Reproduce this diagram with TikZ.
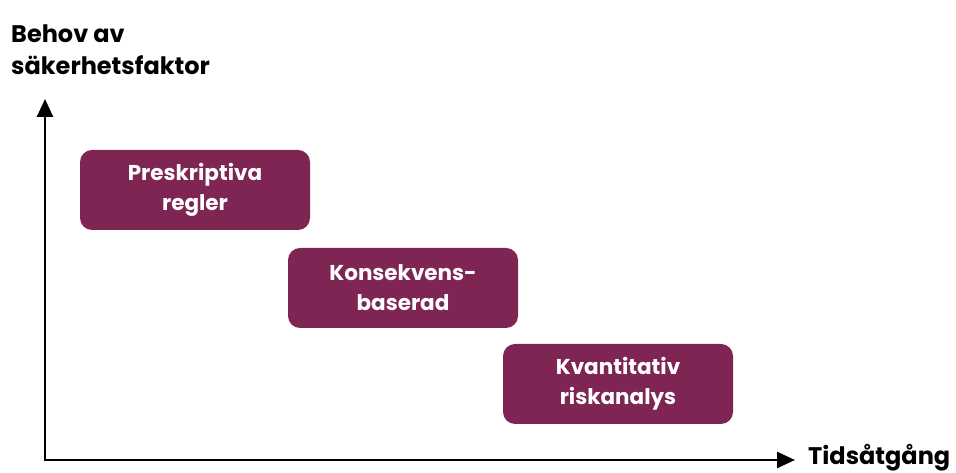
\documentclass[tikz,border=0pt]{standalone}
\usepackage{fontspec}
\setmainfont{Poppins}
\usetikzlibrary{arrows.meta}
\definecolor{plum}{HTML}{7E2553}
\tikzset{
  stagebox/.style={draw=none, fill=plum, rounded corners=12pt, minimum width=230pt, minimum height=80pt, text=white, align=center, font=\fontsize{21.5}{30}\selectfont\bfseries},
  axis/.style={line width=2.6pt, -{Triangle[length=18pt,width=16pt]}},
  axlabel/.style={font=\fontsize{24}{32}\selectfont\bfseries, text=black, inner sep=0pt}
}
\begin{document}
\begin{tikzpicture}[x=1pt,y=1pt]
\useasboundingbox (0,0) rectangle (956,473);
\coordinate (o) at (45,13);
\coordinate (ytop) at (45,374);
\coordinate (xend) at (795,13);
\draw[axis] ([yshift=-1.3pt]o) -- (ytop);
\draw[axis] ([xshift=-1.3pt]o) -- (xend);
\node[axlabel, anchor=north west, align=left] (ylab) at (11,448) {Behov av\\säkerhetsfaktor};
\node[axlabel, anchor=west] (xlab) at (808,15) {Tidsåtgång};
\node[stagebox] (b1) at (195,283) {Preskriptiva\\regler};
\node[stagebox] (b2) at (403,185) {Konsekvens-\\baserad};
\node[stagebox] (b3) at (618,89) {Kvantitativ\\riskanalys};
\end{tikzpicture}
\end{document}
